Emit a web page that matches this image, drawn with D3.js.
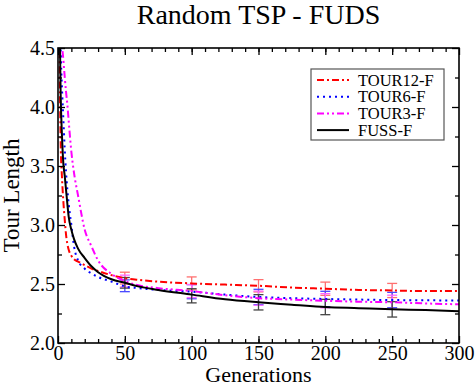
<!DOCTYPE html>
<html>
<head>
<meta charset="utf-8">
<script src="https://cdn.jsdelivr.net/npm/d3@7"></script>
<style>
  body { margin: 0; background: #fff; }
  svg { display: block; }
  svg text { font-family: "Liberation Serif", "Times New Roman", serif !important; }
</style>
</head>
<body>
<svg id="chart" width="476" height="386"></svg>
<script>
var generations = [1, 2, 3, 4, 5, 6, 7, 8, 10, 12, 15, 20, 25, 30, 40, 50, 60, 75, 100, 125, 150, 175, 200, 225, 250, 275, 300];

var tour12 = [4.6, 3.7, 3.4, 3.2, 3.05, 2.92, 2.84, 2.79, 2.74, 2.71, 2.69, 2.66, 2.63, 2.61, 2.575, 2.55, 2.535, 2.52, 2.505, 2.495, 2.485, 2.47, 2.46, 2.45, 2.445, 2.44, 2.44];
var tour6  = [5.2, 4.5, 4.15, 3.9, 3.65, 3.45, 3.3, 3.18, 3.0, 2.82, 2.70, 2.63, 2.59, 2.56, 2.52, 2.48, 2.465, 2.45, 2.435, 2.41, 2.39, 2.38, 2.373, 2.368, 2.364, 2.362, 2.36];
var tour3  = [6.0, 4.9, 4.55, 4.4, 4.26, 4.13, 4.02, 3.88, 3.62, 3.44, 3.25, 2.96, 2.82, 2.70, 2.585, 2.525, 2.49, 2.465, 2.44, 2.405, 2.38, 2.368, 2.358, 2.35, 2.345, 2.335, 2.328];
var fuss   = [4.9, 4.1, 3.75, 3.52, 3.42, 3.3, 3.18, 3.07, 2.96, 2.88, 2.80, 2.72, 2.65, 2.60, 2.54, 2.51, 2.48, 2.45, 2.41, 2.37, 2.345, 2.325, 2.305, 2.295, 2.285, 2.28, 2.27];

// error bars (centre, half width)
var errGens = [50, 100, 150, 200, 250];
var errTour12 = [2.55, 2.505, 2.485, 2.46, 2.445];
var errTour12Sd = [0.05, 0.055, 0.052, 0.056, 0.06];
var errTour6 = [2.485, 2.435, 2.39, 2.373, 2.364];
var errTour6Sd = [0.05, 0.06, 0.065, 0.065, 0.065];
var errTour3 = [2.525, 2.44, 2.38, 2.358, 2.345];
var errTour3Sd = [0.05, 0.055, 0.06, 0.06, 0.06];
var errFuss = [2.51, 2.40, 2.345, 2.305, 2.285];
var errFussSd = [0.045, 0.06, 0.065, 0.065, 0.065];

var seriesNames = ["TOUR12-F", "TOUR6-F", "TOUR3-F", "FUSS-F"];

var xTicks = [0, 50, 100, 150, 200, 250, 300];
var yTicks = [2.0, 2.5, 3.0, 3.5, 4.0, 4.5];

var series = [
    {name: seriesNames[0], values: tour12, err: errTour12, sd: errTour12Sd, color: "#ff0000", errColor: "#ff7070", dash: "7,3,2,3"},
    {name: seriesNames[1], values: tour6, err: errTour6, sd: errTour6Sd, color: "#0000ff", errColor: "#4a4aff", dash: "2,4"},
    {name: seriesNames[2], values: tour3, err: errTour3, sd: errTour3Sd, color: "#ff00ff", errColor: "#ff66ff", dash: "7,3,2,3,2,3"},
    {name: seriesNames[3], values: fuss, err: errFuss, sd: errFussSd, color: "#000000", errColor: "#444444", dash: null}
];

var margin = {left: 58, right: 17, top: 48, bottom: 43},
    width = 476 - margin.left - margin.right,
    height = 386 - margin.top - margin.bottom;

var svg = d3.select("#chart");

var x = d3.scaleLinear().domain([0, 300]).range([0, width]);
var y = d3.scaleLinear().domain([2, 4.5]).range([height, 0]);

var g = svg.append("g")
    .attr("transform", "translate(" + margin.left + "," + margin.top + ")");

g.append("defs").append("clipPath")
    .attr("id", "plotclip")
  .append("rect")
    .attr("width", width)
    .attr("height", height);

var line = d3.line()
    .x(function(d) { return x(d[0]); })
    .y(function(d) { return y(d[1]); })
    .curve(d3.curveMonotoneX);

var plot = g.append("g").attr("clip-path", "url(#plotclip)");

// error bars first, lines on top
series.forEach(function(s) {
    var bars = plot.append("g")
        .attr("stroke", s.errColor)
        .attr("stroke-width", 1.3)
        .selectAll("g")
        .data(errGens.map(function(gen, i) { return [gen, s.err[i], s.sd[i]]; }))
        .enter().append("g");

    bars.append("line")
        .attr("x1", function(d) { return x(d[0]); })
        .attr("x2", function(d) { return x(d[0]); })
        .attr("y1", function(d) { return y(d[1] - d[2]); })
        .attr("y2", function(d) { return y(d[1] + d[2]); });
    [-1, 1].forEach(function(sign) {
        bars.append("line")
            .attr("x1", function(d) { return x(d[0]) - 5; })
            .attr("x2", function(d) { return x(d[0]) + 5; })
            .attr("y1", function(d) { return y(d[1] + sign * d[2]); })
            .attr("y2", function(d) { return y(d[1] + sign * d[2]); });
    });
});

series.forEach(function(s) {
    plot.append("path")
        .datum(generations.map(function(gen, i) { return [gen, s.values[i]]; }))
        .attr("fill", "none")
        .attr("stroke", s.color)
        .attr("stroke-width", 2)
        .attr("stroke-dasharray", s.dash)
        .attr("d", line);
});

// axes, ticks pointing inwards on all four sides
function styleAxis(sel) {
    sel.attr("font-family", null).attr("font-size", null);
    sel.select(".domain").remove();
    sel.selectAll("line").attr("stroke", "#000").attr("stroke-width", 1.3);
    sel.selectAll("text").style("font-size", "20px").attr("fill", "#000");
}

g.append("g").attr("transform", "translate(0," + height + ")")
    .call(d3.axisBottom(x).tickValues(xTicks).tickSize(-7).tickPadding(3).tickFormat(d3.format("d")))
    .call(styleAxis);
g.append("g").attr("transform", "translate(0," + height + ")")
    .call(d3.axisBottom(x).tickValues(d3.range(10, 300, 10)).tickSize(-4).tickFormat(""))
    .call(styleAxis);
g.append("g")
    .call(d3.axisTop(x).tickValues(xTicks).tickSize(-7).tickFormat(""))
    .call(styleAxis);
g.append("g")
    .call(d3.axisTop(x).tickValues(d3.range(10, 300, 10)).tickSize(-4).tickFormat(""))
    .call(styleAxis);

g.append("g")
    .call(d3.axisLeft(y).tickValues(yTicks).tickSize(-7).tickPadding(3).tickFormat(d3.format(".1f")))
    .call(styleAxis);
g.append("g")
    .call(d3.axisLeft(y).tickValues([2.25, 2.75, 3.25, 3.75, 4.25]).tickSize(-4).tickFormat(""))
    .call(styleAxis);
g.append("g").attr("transform", "translate(" + width + ",0)")
    .call(d3.axisRight(y).tickValues(yTicks).tickSize(-7).tickFormat(""))
    .call(styleAxis);
g.append("g").attr("transform", "translate(" + width + ",0)")
    .call(d3.axisRight(y).tickValues([2.25, 2.75, 3.25, 3.75, 4.25]).tickSize(-4).tickFormat(""))
    .call(styleAxis);

g.append("rect")
    .attr("width", width)
    .attr("height", height)
    .attr("fill", "none")
    .attr("stroke", "#000")
    .attr("stroke-width", 1.6);

// titles
svg.append("text")
    .attr("x", margin.left + width / 2)
    .attr("y", 24)
    .attr("text-anchor", "middle")
    .style("font-size", "28px")
    .text("Random TSP - FUDS");

svg.append("text")
    .attr("x", margin.left + width / 2)
    .attr("y", 381.5)
    .attr("text-anchor", "middle")
    .style("font-size", "22px")
    .text("Generations");

svg.append("text")
    .attr("transform", "translate(19," + (margin.top + height / 2) + ") rotate(-90)")
    .attr("text-anchor", "middle")
    .style("font-size", "23px")
    .text("Tour Length");

// legend
var legend = svg.append("g").attr("transform", "translate(311,69)");
legend.append("rect")
    .attr("width", 133)
    .attr("height", 71)
    .attr("fill", "#fff")
    .attr("stroke", "#555")
    .attr("stroke-width", 1.2);

var items = legend.selectAll("g.item")
    .data(series)
    .enter().append("g")
    .attr("class", "item")
    .attr("transform", function(d, i) { return "translate(0," + (11 + i * 16.7) + ")"; });

items.append("line")
    .attr("x1", 6).attr("x2", 38)
    .attr("stroke", function(d) { return d.color; })
    .attr("stroke-width", 2)
    .attr("stroke-dasharray", function(d) { return d.dash; });

items.append("text")
    .attr("x", 47)
    .attr("dy", "0.35em")
    .style("font-size", "16.5px")
    .text(function(d) { return d.name; });
</script>
</body>
</html>
